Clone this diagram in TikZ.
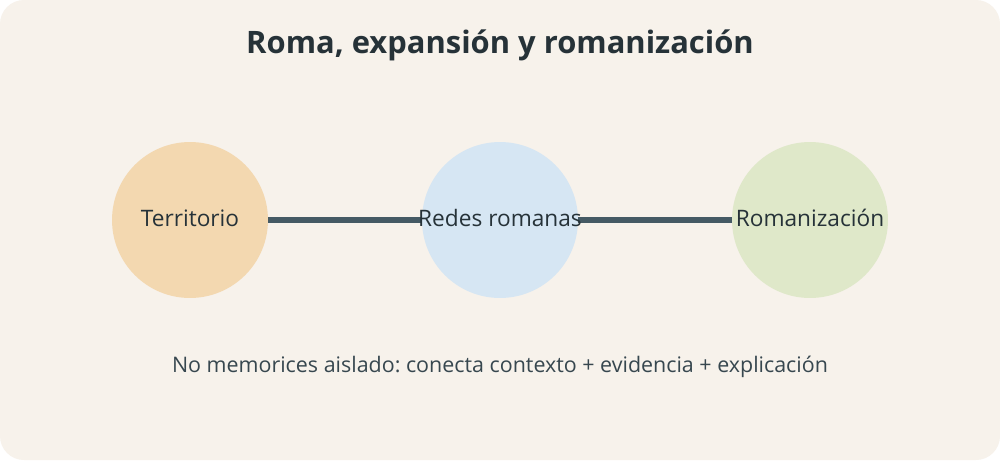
\documentclass[tikz,border=0pt]{standalone}
\usepackage{fontspec}
\setmainfont{Open Sans}
\usepackage{tikz}
\definecolor{bgcol}{HTML}{F7F2EB}
\definecolor{terrcol}{HTML}{F3D8B0}
\definecolor{redescol}{HTML}{D6E6F3}
\definecolor{romacol}{HTML}{DFE8C9}
\definecolor{linkcol}{HTML}{455A64}
\definecolor{textcol}{HTML}{263238}
\definecolor{notecol}{HTML}{37474F}
\frenchspacing

\begin{document}
\begin{tikzpicture}[x=0.02cm,y=-0.02cm,
    topic/.style={circle, minimum size=3.12cm, inner sep=0pt},
    lbl/.style={text=textcol, font=\fontsize{12.9}{14}\selectfont},
    link/.style={linkcol, line width=3.4pt}]
    % draw background
    \useasboundingbox (0,0) rectangle (1000,460);
    \fill[white] (0,0) rectangle (1000,460);
    \fill[bgcol, rounded corners=0.48cm] (0,0) rectangle (1000,460);

    % draw title
    \node[text=textcol, font=\fontsize{17.6}{20}\selectfont\bfseries] (title) at (500,45) {Roma, expansión y romanización};

    % draw circles
    \node[topic, fill=terrcol] (terr) at (190,220) {};
    \node[topic, fill=redescol] (redes) at (500,220) {};
    \node[topic, fill=romacol] (roma) at (810,220) {};

    % draw links
    \draw[link] (terr) -- (redes);
    \draw[link] (redes) -- (roma);

    % draw labels
    \node[lbl] at (190,218) {Territorio};
    \node[lbl] at (500,218) {Redes romanas};
    \node[lbl] at (810,218) {Romanización};

    % draw note
    \node[text=notecol, font=\fontsize{12.2}{14}\selectfont] (note) at (500,367) {No memorices aislado: conecta contexto + evidencia + explicación};
\end{tikzpicture}
\end{document}
